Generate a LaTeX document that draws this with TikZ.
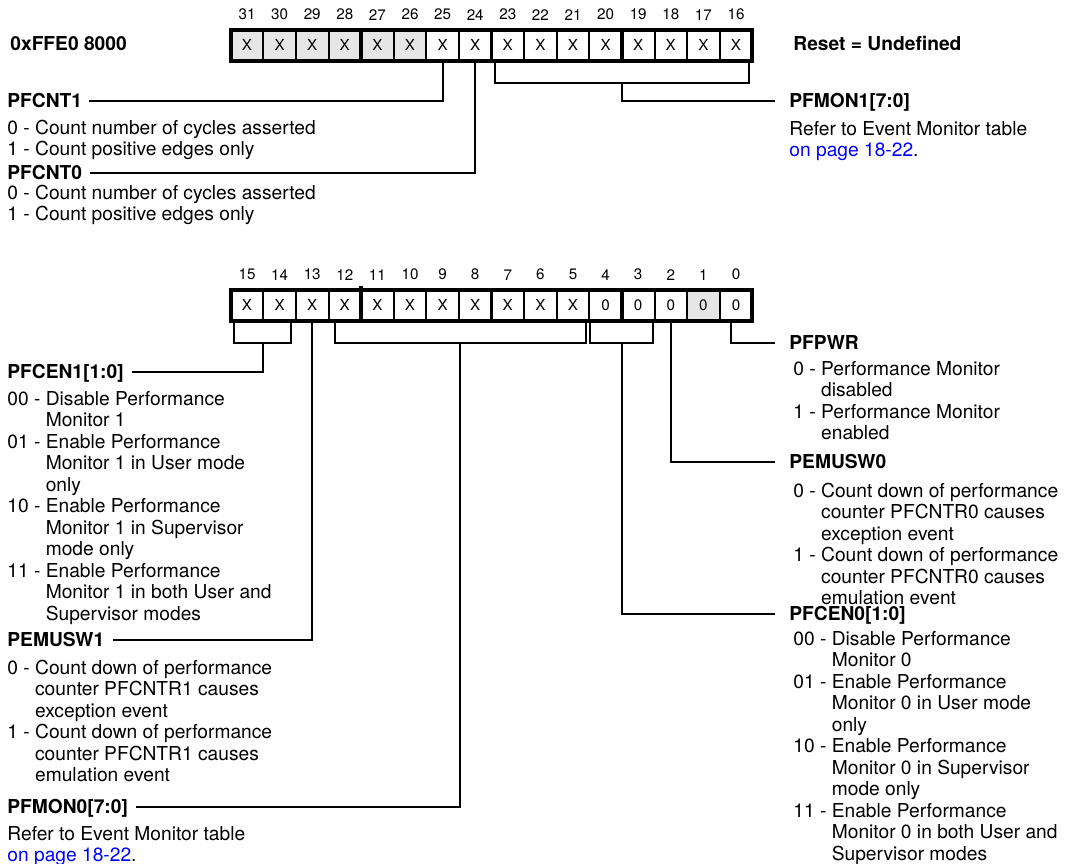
\documentclass[tikz,border=0pt]{standalone}
\usepackage{fontspec}
\setmainfont{TeX Gyre Heros}
\definecolor{cellgray}{RGB}{230,230,230}
\definecolor{linkblue}{RGB}{0,0,255}
\newcommand{\regfont}{\fontsize{7.6}{8}\selectfont}
\newcommand{\txtfont}{\fontsize{9.6}{10.75}\selectfont}
\newcommand{\pglink}{\textcolor{linkblue}{on page 18-22}.}
\newcommand{\bitlist}[1]{\begin{tabular}[t]{@{}l@{\ }l@{}}#1\end{tabular}}
\newcommand{\reftext}{\begin{tabular}[t]{@{}l@{}}Refer to Event Monitor table\\\pglink\end{tabular}}

\begin{document}
\begin{tikzpicture}[x=.5pt,y=-.5pt,
  cell/.style={draw,line width=1pt,minimum width=16.3pt,minimum height=15.5pt,inner sep=0pt,outer sep=0pt,font=\regfont},
  bitnum/.style={font=\regfont,inner sep=0pt},
  head/.style={font=\txtfont\bfseries,inner sep=0pt,text height=6.9pt,text depth=0pt,anchor=west},
  desc/.style={font=\txtfont,inner sep=0pt,anchor=base west},
  wire/.style={line width=1pt}]
\useasboundingbox (0,0) rectangle (1068,863);
% upper half of the register
\foreach \i in {31,...,16}{
  \ifnum\i>25 \def\cf{cellgray}\else\def\cf{white}\fi
  \node[cell,fill=\cf,label={[bitnum,label distance=4.5pt]above:\i}] (t\i) at ({247+32.6*(31-\i)},45) {X};
}
\draw[line width=2pt] (t31.north west) rectangle (t16.south east);
\foreach \i in {28,24,20} \draw[line width=1.75pt] (t\i.north east) -- (t\i.south east);
% lower half of the register
\foreach \i in {15,...,0}{
  \ifnum\i=1 \def\cf{cellgray}\else\def\cf{white}\fi
  \ifnum\i>4 \def\v{X}\else\def\v{0}\fi
  \node[cell,fill=\cf,label={[bitnum,label distance=4.5pt]above:\i}] (b\i) at ({247+32.6*(15-\i)},305) {\v};
}
\draw[line width=2pt] (b15.north west) rectangle (b0.south east);
\draw[line width=1.75pt] ([yshift=2pt]b12.north east) -- (b12.south east);
\foreach \i in {8,4} \draw[line width=1.75pt] (b\i.north east) -- (b\i.south east);

% texts
\node[head] (addr) at (10,44) {0xFFE0 8000};
\node[head] (reset) at (793,44) {Reset = Undefined};
\node[head] (pfcnt1) at (7,101) {PFCNT1};
\node[desc] (pfcnt1d) at (7,134) {\bitlist{0 -&Count number of cycles asserted\\1 -&Count positive edges only}};
\node[head] (pfcnt0) at (7,173) {PFCNT0};
\node[desc] (pfcnt0d) at (7,199) {\bitlist{0 -&Count number of cycles asserted\\1 -&Count positive edges only}};
\node[head] (pfmon1) at (789,101) {PFMON1[7:0]};
\node[desc] (pfmon1d) at (789,135) {\reftext};
\node[head] (pfcen1) at (7,372) {PFCEN1[1:0]};
\node[desc] (pfcen1d) at (7,405) {\bitlist{00 -&Disable Performance\\&Monitor 1\\01 -&Enable Performance\\&Monitor 1 in User mode\\&only\\10 -&Enable Performance\\&Monitor 1 in Supervisor\\&mode only\\11 -&Enable Performance\\&Monitor 1 in both User and\\&Supervisor modes}};
\node[head] (pemusw1) at (7,640) {PEMUSW1};
\node[desc] (pemusw1d) at (7,674) {\bitlist{0 -&Count down of performance\\&counter PFCNTR1 causes\\&exception event\\1 -&Count down of performance\\&counter PFCNTR1 causes\\&emulation event}};
\node[head] (pfmon0) at (7,807) {PFMON0[7:0]};
\node[desc] (pfmon0d) at (7,840) {\reftext};
\node[head] (pfpwr) at (789,343) {PFPWR};
\node[desc] (pfpwrd) at (793,375) {\bitlist{0 -&Performance Monitor\\&disabled\\1 -&Performance Monitor\\&enabled}};
\node[head] (pemusw0) at (789,462) {PEMUSW0};
\node[desc] (pemusw0d) at (793,497) {\bitlist{0 -&Count down of performance\\&counter PFCNTR0 causes\\&exception event\\1 -&Count down of performance\\&counter PFCNTR0 causes\\&emulation event}};
\node[head] (pfcen0) at (789,614) {PFCEN0[1:0]};
\node[desc] (pfcen0d) at (793,645) {\bitlist{00 -&Disable Performance\\&Monitor 0\\01 -&Enable Performance\\&Monitor 0 in User mode\\&only\\10 -&Enable Performance\\&Monitor 0 in Supervisor\\&mode only\\11 -&Enable Performance\\&Monitor 0 in both User and\\&Supervisor modes}};

% leader lines, upper half
\coordinate (tb) at (0,83);
\coordinate (bb) at (0,343);
\draw[wire] (t25.south) |- ([xshift=3.5pt]pfcnt1.east);
\draw[wire] (t24.south) |- ([xshift=4pt]pfcnt0.east);
\coordinate (t23l) at ([xshift=1.5pt]t23.south west);
\coordinate (t16r) at ([xshift=-1.5pt]t16.south east);
\draw[wire] (t23l) -- (t23l |- tb) -- (t16r |- tb) -- (t16r);
\draw[wire] (t20.south east |- tb) |- ([xshift=-7pt]pfmon1.west);
% leader lines, lower half
\coordinate (b15l) at ([xshift=1.5pt]b15.south west);
\coordinate (b14r) at ([xshift=-2.5pt]b14.south east);
\draw[wire] (b15l) -- (b15l |- bb) -- (b14r |- bb) -- (b14r);
\draw[wire] (b15.south east |- bb) |- ([xshift=4pt]pfcen1.east);
\draw[wire] (b13.south) |- ([xshift=4pt]pemusw1.east);
\coordinate (b12l) at ([xshift=3pt]b12.south west);
\coordinate (b5r) at ([xshift=-1.5pt]b5.south east);
\coordinate (m0) at ([xshift=.75pt]b9.south east);
\draw[wire] (b12l) -- (b12l |- bb) -- (b5r |- bb) -- (b5r);
\draw[wire] (m0 |- bb) |- ([xshift=4pt]pfmon0.east);
\coordinate (b4l) at ([xshift=.5pt]b4.south west);
\coordinate (b3r) at ([xshift=-1pt]b3.south east);
\draw[wire] (b4l) -- (b4l |- bb) -- (b3r |- bb) -- (b3r);
\draw[wire] (b4.south east |- bb) |- ([xshift=-7pt]pfcen0.west);
\draw[wire] (b2.south) |- ([xshift=-7pt]pemusw0.west);
\draw[wire] ([xshift=-2.5pt]b0.south) |- ([xshift=-7pt]pfpwr.west);
\end{tikzpicture}
\end{document}
